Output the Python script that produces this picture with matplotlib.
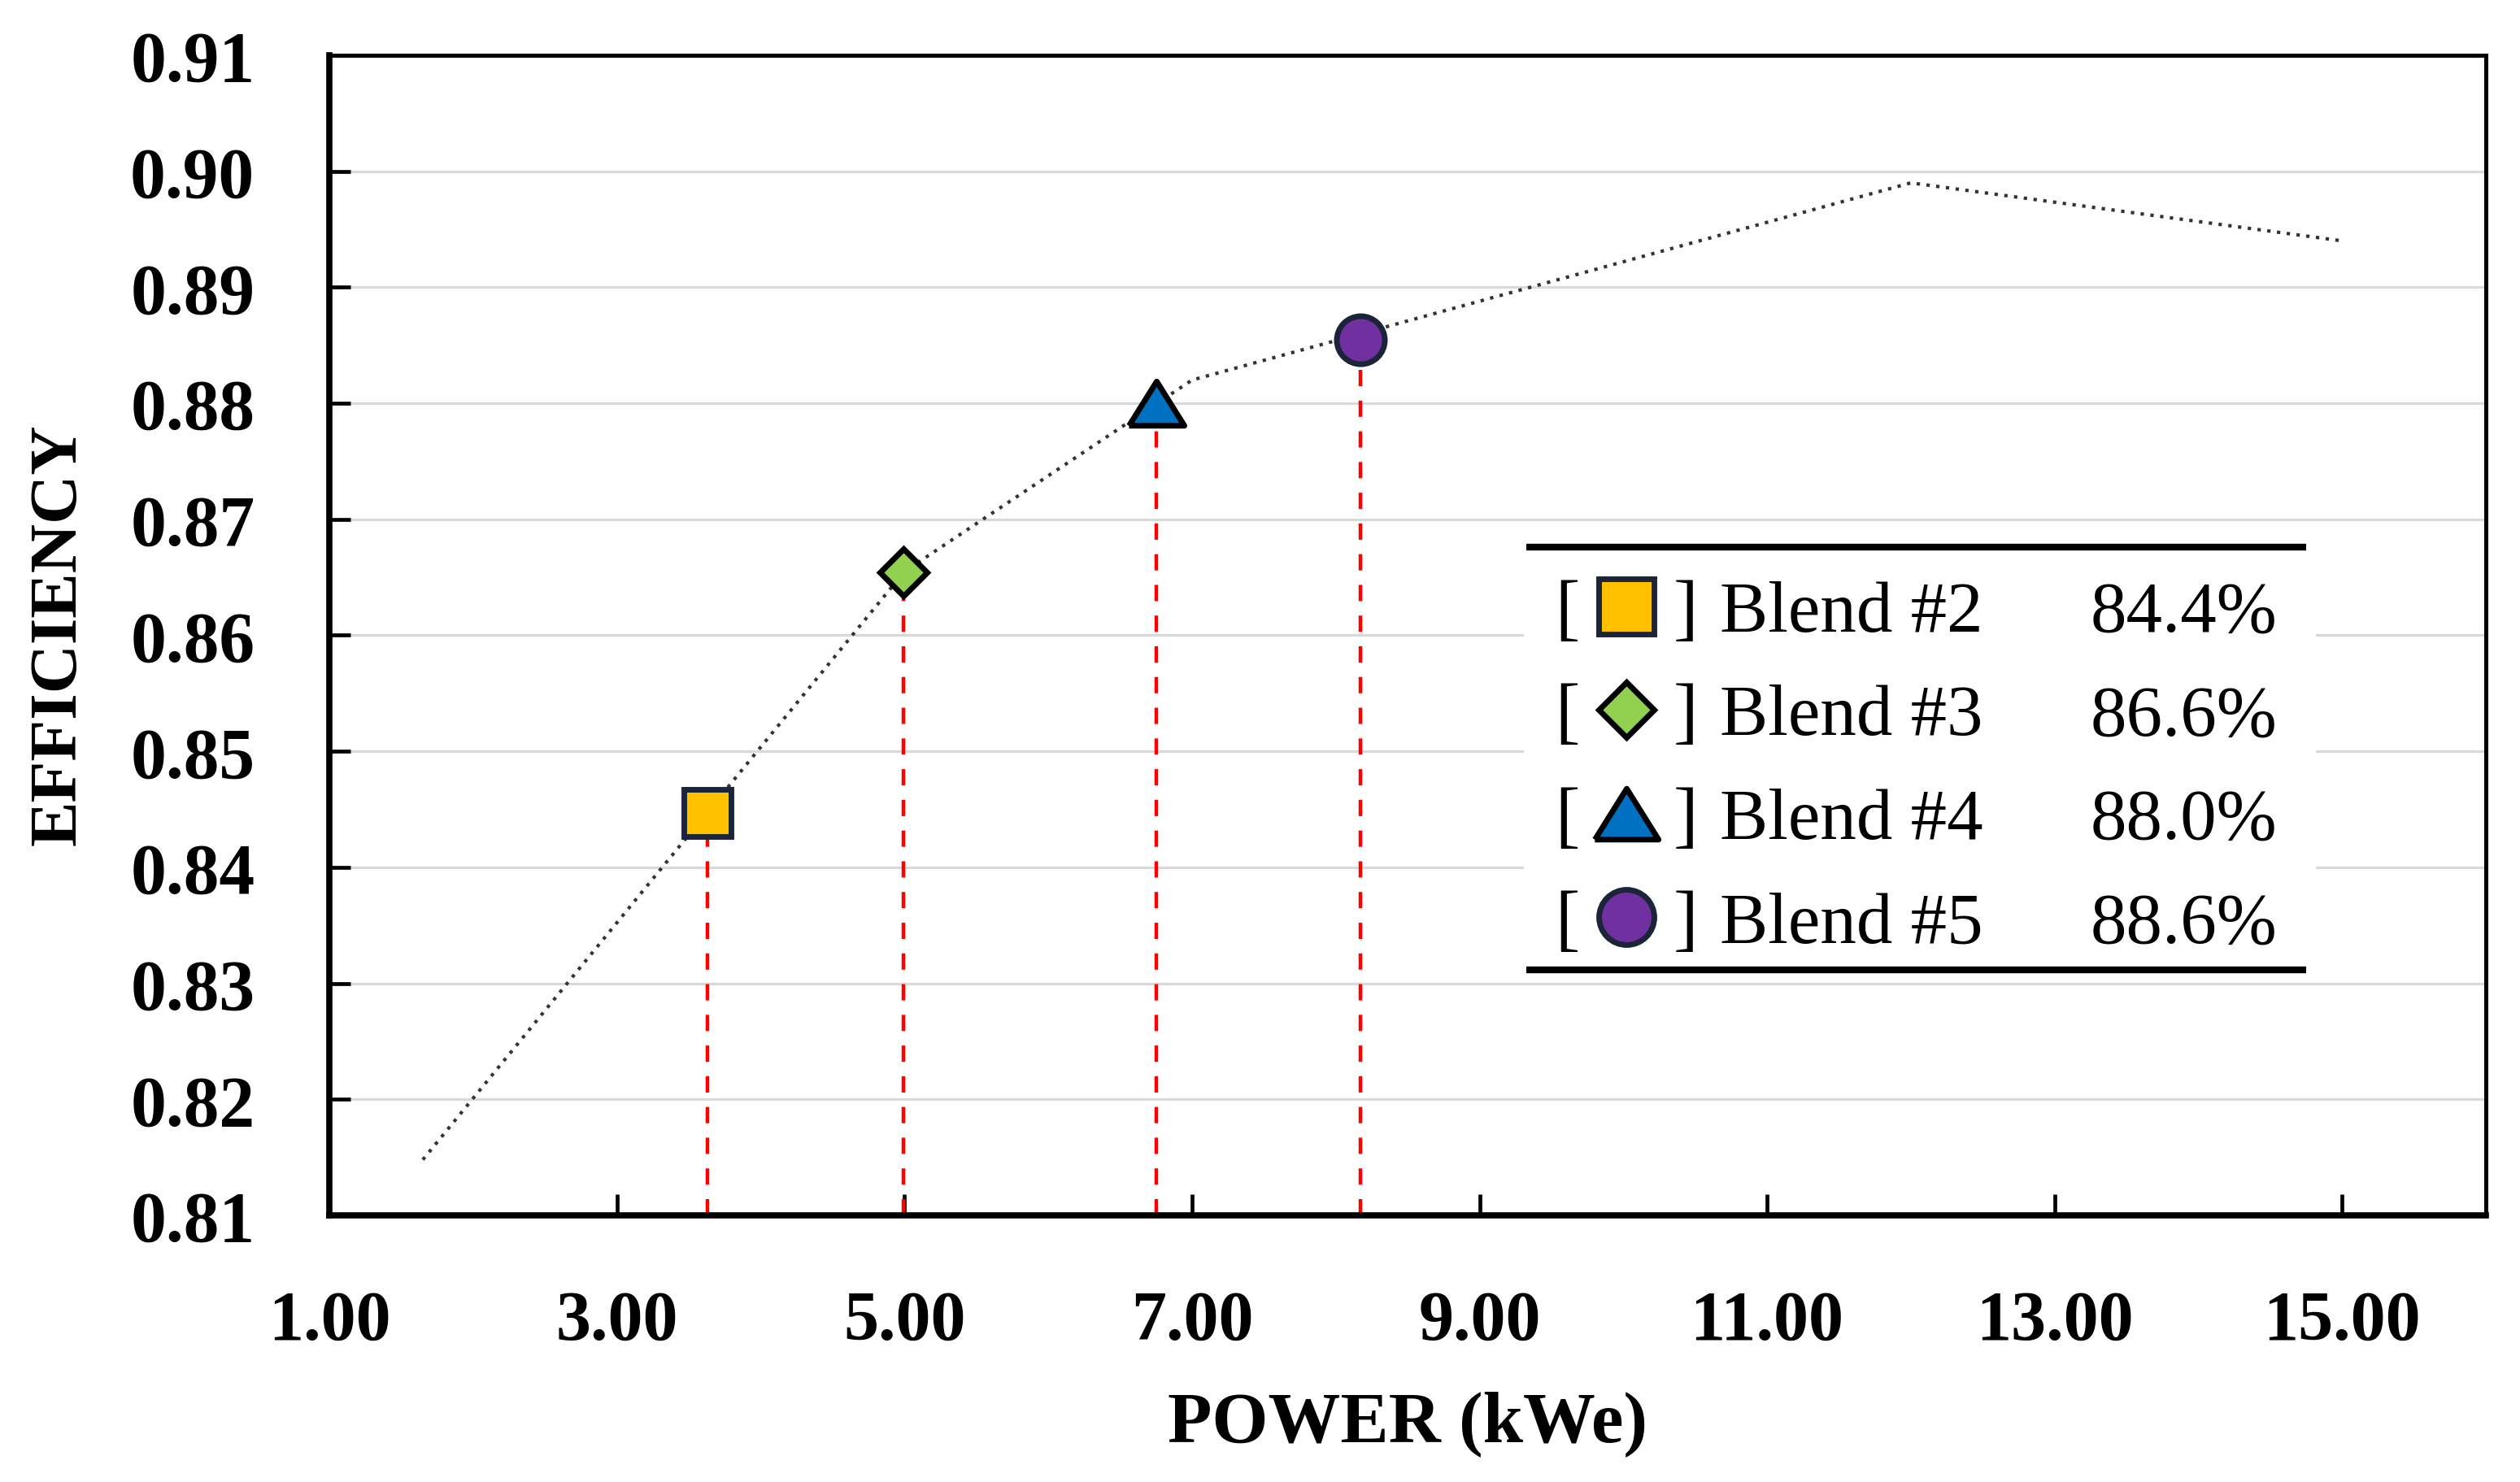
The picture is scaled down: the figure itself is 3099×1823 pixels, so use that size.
import matplotlib
matplotlib.use('Agg')
import matplotlib.pyplot as plt
from matplotlib.markers import MarkerStyle
from matplotlib.patches import Rectangle

# ---------------- data ----------------
curve_x = [1.65, 5.0, 7.0, 12.0, 15.0]
curve_y = [0.8148, 0.8655, 0.8820, 0.8990, 0.8940]

blend_names = ['Blend #2', 'Blend #3', 'Blend #4', 'Blend #5']
blend_x = [3.63, 4.99, 6.75, 8.17]
blend_y = [0.8447, 0.8654, 0.8800, 0.8855]
blend_pct = ['84.4%', '86.6%', '88.0%', '88.6%']

x_ticks = [1, 3, 5, 7, 9, 11, 13, 15]
y_ticks = [0.81, 0.82, 0.83, 0.84, 0.85, 0.86, 0.87, 0.88, 0.89, 0.90, 0.91]

# ---------------- styles ----------------
plt.rcParams['font.family'] = ['Liberation Serif', 'DejaVu Serif']
tri = MarkerStyle([(-1.25, -1), (1.25, -1), (0, 1), (-1.25, -1)], joinstyle='miter')
markers = ['s', 'D', tri, 'o']
msizes = [42, 30, 49, 42.5]
faces = ['#FFC000', '#92D050', '#0070C0', '#7030A0']
edges = ['#1b2438', '#000000', '#000000', '#1b2438']

fig = plt.figure(figsize=(30.99, 18.24), dpi=100)
ax = fig.add_axes([0.1307, 0.1798, 0.8558, 0.7824])
ax.set_xlim(1, 16)
ax.set_ylim(0.81, 0.91)

ax.set_xticks(x_ticks)
ax.set_xticklabels([f'{v:.2f}' for v in x_ticks], fontsize=62, fontweight='bold')
ax.set_yticks(y_ticks)
ax.set_yticklabels([f'{v:.2f}' for v in y_ticks], fontsize=63, fontweight='bold')
ax.tick_params(axis='both', direction='in', length=19, width=3.4, color='black')
ax.tick_params(axis='y', pad=66)
ax.tick_params(axis='x', pad=66)

ax.grid(axis='y', color='#d9d9d9', lw=2.3)
ax.set_axisbelow(True)
for side in ['left', 'bottom']:
    ax.spines[side].set_linewidth(5.5)
for side in ['top', 'right']:
    ax.spines[side].set_linewidth(3.6)

# curve
ax.plot(curve_x, curve_y, color='#333333', lw=3.0, linestyle=(0, (1, 1.9)),
        dash_capstyle='butt', zorder=3)

# red drop lines
ax.vlines(blend_x, 0.81, blend_y, colors='#ff0000', lw=3.2,
          linestyles=[(0, (4.5, 4.0))], zorder=2)

# markers
for bx, by, m, s, fc, ec in zip(blend_x, blend_y, markers, msizes, faces, edges):
    ax.plot([bx], [by], marker=m, ms=s, mfc=fc, mec=ec, mew=5, ls='none', zorder=5)

# labels
fig.text(0.5 * (0.1307 + 0.9865), 0.040, 'POWER (kWe)', ha='center', va='center',
         fontsize=64, fontweight='bold')
fig.text(0.0236, 0.572, 'EFFICIENCY', ha='center', va='center', rotation=90,
         fontsize=60, fontweight='bold')

# custom legend table
T = ax.transAxes
ax.add_patch(Rectangle((0.5537, 0.212), 0.921 - 0.5537, 0.576 - 0.212, transform=T,
                       facecolor='white', edgecolor='none', zorder=1.5))
for yy in [0.576, 0.212]:
    ax.plot([0.555, 0.9165], [yy, yy], transform=T, color='black', lw=6,
            solid_capstyle='butt', clip_on=False, zorder=4)

row_top = 0.525
row_step = 0.0893
for i, (name, pct, m, s, fc, ec) in enumerate(zip(blend_names, blend_pct, markers,
                                                   msizes, faces, edges)):
    yc = row_top - i * row_step
    yb = yc - 0.021
    ax.text(0.574, yb, '[', transform=T, ha='center', va='baseline', fontsize=66, zorder=6)
    ax.text(0.629, yb, ']', transform=T, ha='center', va='baseline', fontsize=66, zorder=6)
    ax.plot([0.6015], [yc], transform=T, marker=m, ms=s * 1.15, mfc=fc, mec=ec, mew=5,
            ls='none', clip_on=False, zorder=6)
    ax.text(0.6446, yb, name, transform=T, ha='left', va='baseline', fontsize=64, zorder=6)
    ax.text(0.903, yb, pct, transform=T, ha='right', va='baseline', fontsize=64, zorder=6)

fig.savefig('out.png', dpi=100)
